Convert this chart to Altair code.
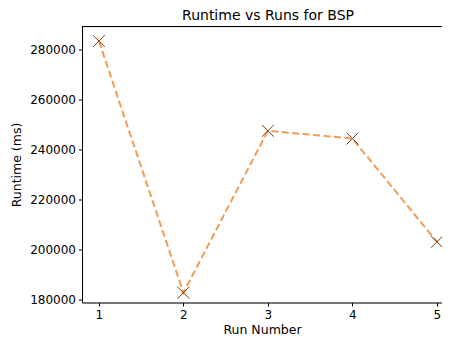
import altair as alt
import pandas as pd

runs = [1, 2, 3, 4, 5]
runtime_ms = [283300, 182900, 247500, 244400, 203200]

df = pd.DataFrame({"Run Number": runs, "Runtime (ms)": runtime_ms})

FONT = "DejaVu Sans"
x_enc = alt.X("Run Number:Q",
              scale=alt.Scale(domain=[0.8, 5.06], nice=False, zero=False),
              axis=alt.Axis(values=runs, format="d", grid=False, title="Run Number",
                            tickSize=3.5, labelPadding=3, titlePadding=3,
                            domainColor="black", tickColor="black", labelColor="black",
                            titleColor="black", labelFontSize=12, titleFontSize=12.5,
                            labelFont=FONT, titleFont=FONT, titleFontWeight="normal",
                            labelFlush=False))
y_enc = alt.Y("Runtime (ms):Q",
              scale=alt.Scale(domain=[179000, 289100], nice=False, zero=False),
              axis=alt.Axis(values=[180000, 200000, 220000, 240000, 260000, 280000],
                            format="d", grid=False, title="Runtime (ms)",
                            tickSize=3.5, labelPadding=3, titlePadding=6,
                            domainColor="black", tickColor="black", labelColor="black",
                            titleColor="black", labelFontSize=12, titleFontSize=12.5,
                            labelFont=FONT, titleFont=FONT, titleFontWeight="normal",
                            labelFlush=False))

base = alt.Chart(df)

line = base.mark_line(color="#f0913f", strokeWidth=2, strokeDash=[7, 3.5], opacity=0.9).encode(x=x_enc, y=y_enc)

pts = base.mark_point(shape="M-1,-1L1,1M1,-1L-1,1", size=140, filled=False,
                      color="#7f3a0a", strokeWidth=1, opacity=1).encode(x="Run Number:Q", y="Runtime (ms):Q")

top = base.mark_rule(color="black", strokeWidth=1).encode(
    x=alt.value(0), x2=alt.value(360), y=alt.value(0))

chart = alt.layer(line, pts, top).properties(
    width=360, height=276,
    title=alt.TitleParams("Runtime vs Runs for BSP", font=FONT, fontSize=14,
                          fontWeight="normal", color="black", offset=3, dx=6),
    autosize=alt.AutoSizeParams(type="none"),
    padding={"left": 74, "top": 18.5, "right": 0, "bottom": 32.5},
).configure_view(stroke=None).configure(background="white")

chart.save("out.html", embed_options={"renderer": "svg", "actions": False})
